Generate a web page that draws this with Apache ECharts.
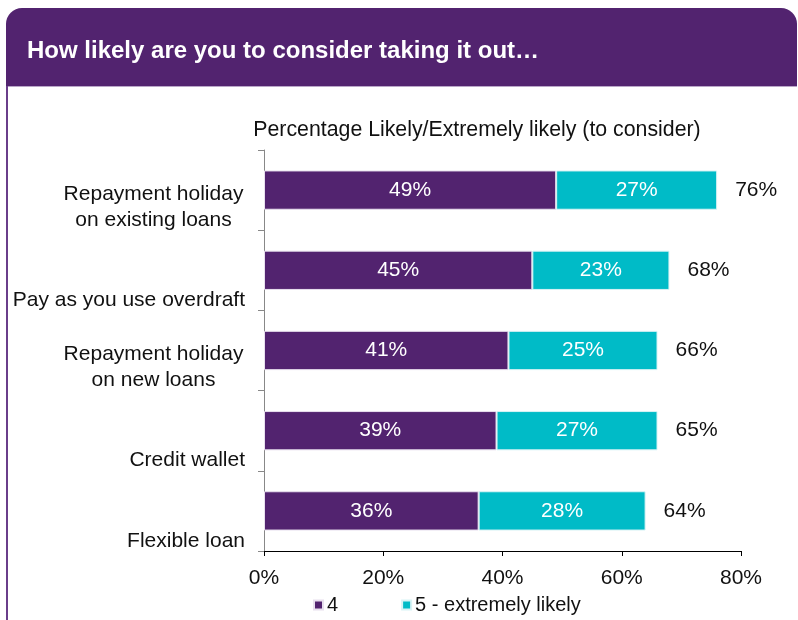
<!DOCTYPE html>
<html>
<head>
<meta charset="utf-8">
<script src="https://cdn.jsdelivr.net/npm/echarts@6/dist/echarts.min.js"></script>
<style>
  html, body { margin: 0; padding: 0; background: #fff; }
  #chart { width: 798px; height: 620px; }
</style>
</head>
<body>
<div id="chart"></div>
<script>
// Products asked about, top to bottom
const categories = [
  'Repayment holiday\non existing loans',
  'Pay as you use overdraft',
  'Repayment holiday\non new loans',
  'Credit wallet',
  'Flexible loan'
];
// Share answering 4 and 5 on the likelihood scale (%)
const likely4 = [49, 45, 41, 39, 36];
const extremely5 = [27, 23, 25, 27, 28];
// Combined likely / extremely likely share as reported (%)
const totals = [76, 68, 66, 65, 64];
const xTicks = [0, 20, 40, 60, 80];

const PURPLE = '#52236f';
const TEAL = '#00bbc7';
const FONT = '"Liberation Sans", Arial, sans-serif';

const chart = echarts.init(document.getElementById('chart'), null, { renderer: 'canvas' });

chart.setOption({
  animation: false,
  backgroundColor: '#fff',
  textStyle: { fontFamily: FONT },
  graphic: [
    {
      type: 'rect',
      shape: { x: 6, y: 8, width: 791, height: 78, r: [16, 16, 0, 0] },
      style: { fill: PURPLE }
    },
    {
      type: 'rect',
      shape: { x: 6, y: 86, width: 791, height: 1 },
      style: { fill: '#b9a6c8' }
    },
    {
      type: 'rect',
      shape: { x: 6, y: 86, width: 2, height: 534 },
      style: { fill: '#6a3d8a' }
    },
    {
      type: 'text',
      left: 27,
      top: 39,
      style: {
        text: 'How likely are you to consider taking it out…',
        fill: '#fff',
        font: 'bold 24px ' + FONT
      }
    }
  ],
  title: {
    text: 'Percentage Likely/Extremely likely (to consider)',
    left: 472,
    textAlign: 'center',
    top: 115,
    textStyle: { fontSize: 21.3, fontWeight: 'normal', color: '#111', fontFamily: FONT }
  },
  legend: {
    data: ['4', '5 - extremely likely'],
    left: 313,
    top: 595,
    padding: 0,
    itemWidth: 9,
    itemHeight: 9,
    itemGap: 63,
    icon: 'rect',
    textStyle: { fontSize: 20, color: '#111', fontFamily: FONT, padding: [0, 0, 0, -1] }
  },
  grid: { left: 264, right: 57, top: 150, bottom: 69, containLabel: false },
  xAxis: {
    type: 'value',
    min: xTicks[0],
    max: xTicks[xTicks.length - 1],
    interval: xTicks[1] - xTicks[0],
    axisLine: { show: true, lineStyle: { color: '#000', width: 1 } },
    axisTick: { show: true, length: 5, lineStyle: { color: '#000' } },
    splitLine: { show: false },
    axisLabel: {
      formatter: v => v + '%',
      fontSize: 21,
      color: '#111',
      margin: 17,
      fontFamily: FONT
    }
  },
  yAxis: {
    type: 'category',
    data: categories,
    inverse: true,
    axisLine: { show: true, lineStyle: { color: '#888', width: 1 } },
    axisTick: { show: true, length: 6, lineStyle: { color: '#888' } },
    axisLabel: {
      fontSize: 21,
      lineHeight: 26,
      color: '#111',
      margin: 19,
      align: 'right',
      verticalAlign: 'bottom',
      padding: [0, 0, -43, 0],
      fontFamily: FONT,
      // two-line names are centred under each other
      formatter: v => v.indexOf('\n') >= 0
        ? v.split('\n').map(s => '{c|' + s + '}').join('\n')
        : v,
      rich: {
        c: { width: 183, align: 'center', fontSize: 21, lineHeight: 26, color: '#111', fontFamily: FONT }
      }
    }
  },
  series: [
    {
      name: '4',
      type: 'bar',
      stack: 'total',
      data: likely4,
      barWidth: '49%',
      itemStyle: { color: PURPLE, borderColor: '#e8e0ee', borderWidth: 1 },
      label: {
        show: true,
        position: 'inside',
        formatter: p => p.value + '%',
        color: '#fff',
        fontSize: 21,
        fontFamily: FONT
      }
    },
    {
      name: '5 - extremely likely',
      type: 'bar',
      stack: 'total',
      data: extremely5,
      itemStyle: { color: TEAL, borderColor: '#d8f3f5', borderWidth: 1 },
      label: {
        show: true,
        position: 'inside',
        formatter: p => p.value + '%',
        color: '#fff',
        fontSize: 21,
        fontFamily: FONT
      }
    },
    {
      name: 'total',
      type: 'bar',
      stack: 'total',
      data: totals.map(() => 0),
      itemStyle: { color: 'transparent' },
      label: {
        show: true,
        position: 'right',
        distance: 18,
        formatter: p => totals[p.dataIndex] + '%',
        color: '#111',
        fontSize: 21,
        fontFamily: FONT
      },
      tooltip: { show: false }
    }
  ]
});
</script>
</body>
</html>
